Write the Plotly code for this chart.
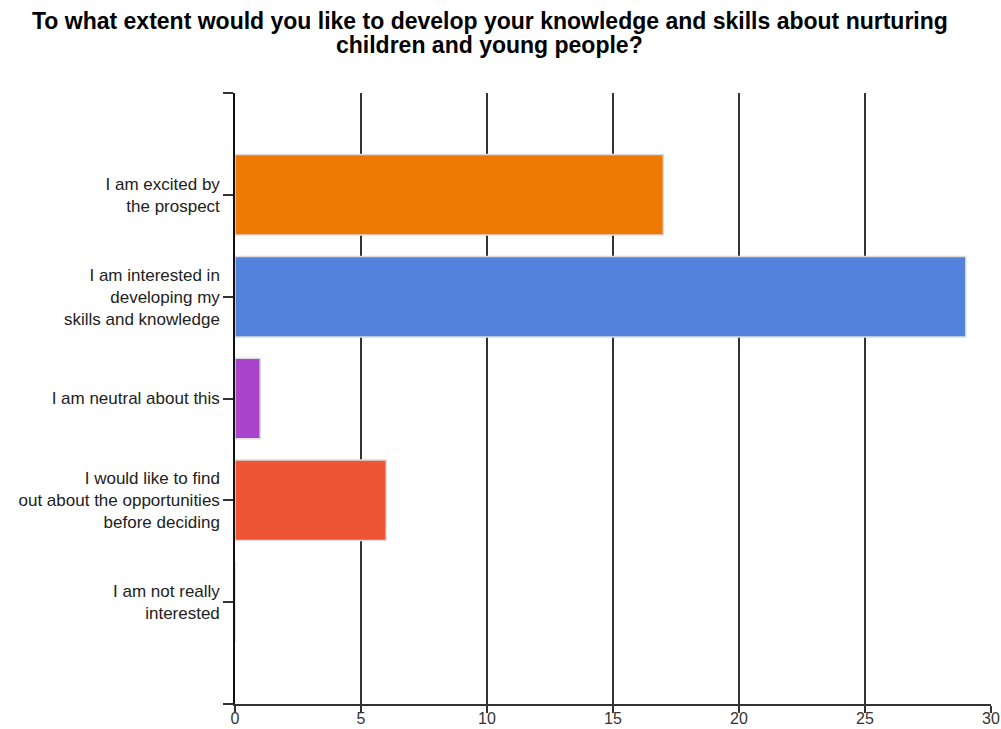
import plotly.graph_objects as go

title_lines = [
    "To what extent would you like to develop your knowledge and skills about nurturing",
    "children and young people?",
]
categories = [
    "I am excited by<br>the prospect",
    "I am interested in<br>developing my<br>skills and knowledge",
    "I am neutral about this",
    "I would like to find<br>out about the opportunities<br>before deciding",
    "I am not really<br>interested",
]
values = [17, 29, 1, 6, 0]
colors = ["#EE7A05", "#5282DC", "#AA44CC", "#EE5535", "#888888"]
x_ticks = [0, 5, 10, 15, 20, 25, 30]

positions = list(range(len(categories)))

FONT = "Liberation Sans, Arial, sans-serif"

fig = go.Figure()
fig.add_trace(go.Bar(
    x=values,
    y=positions,
    orientation="h",
    width=0.79,
    marker=dict(color=colors, line=dict(color="#DDDDDD", width=1.5)),
    hoverinfo="x",
))

fig.update_layout(
    width=1001,
    height=729,
    paper_bgcolor="white",
    plot_bgcolor="white",
    showlegend=False,
    margin=dict(l=235, r=10, t=93, b=25, autoexpand=False),
    font=dict(family=FONT, size=14, color="#222222"),
    annotations=[
        dict(text="<b>%s</b>" % title_lines[0], xref="paper", yref="paper",
             x=0.3373, y=1.1178, xanchor="center", yanchor="middle",
             showarrow=False, font=dict(family=FONT, size=23, color="#000000")),
        dict(text="<b>%s</b>" % title_lines[1], xref="paper", yref="paper",
             x=0.3373, y=1.0786, xanchor="center", yanchor="middle",
             showarrow=False, font=dict(family=FONT, size=23, color="#000000")),
    ],
)

fig.update_xaxes(
    range=[0, 30],
    tickvals=x_ticks,
    ticktext=[str(t) for t in x_ticks],
    showgrid=True,
    gridcolor="#333333",
    gridwidth=1.5,
    zeroline=False,
    showline=True,
    linecolor="#333333",
    linewidth=1.5,
    ticks="outside",
    ticklen=7,
    tickwidth=1.5,
    tickcolor="#333333",
    ticklabelstandoff=-8,
    tickfont=dict(size=16, color="#333333"),
    automargin=False,
)

fig.update_yaxes(
    range=[5, -1],
    tickvals=[-1] + positions + [5],
    ticktext=[""] + categories + [""],
    showgrid=False,
    zeroline=False,
    showline=True,
    linecolor="#111111",
    linewidth=1.5,
    ticks="outside",
    ticklen=10,
    tickwidth=1.5,
    tickcolor="#333333",
    ticklabelstandoff=0,
    tickfont=dict(size=17, color="#222222"),
    automargin=False,
)

fig.write_html(
    "out.html",
    config={"displayModeBar": False},
    post_script="document.body.style.margin='0';",
)
